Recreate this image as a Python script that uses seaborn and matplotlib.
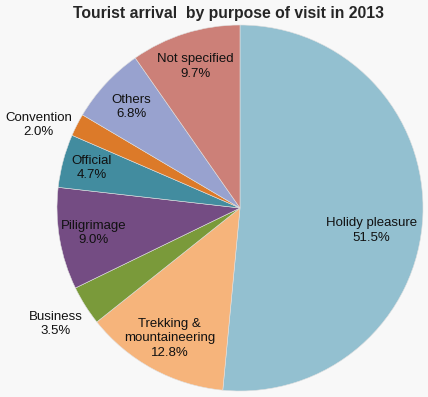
import numpy as np
import matplotlib
matplotlib.use("Agg")
import matplotlib.pyplot as plt
import seaborn as sns

# data, clockwise from 12 o'clock
purposes = ["Holidy pleasure", "Trekking &\nmountaineering", "Business", "Piligrimage",
            "Official", "Convention", "Others", "Not specified"]
shares   = [51.5, 12.8, 3.5, 9.0, 4.7, 2.0, 6.8, 9.7]
colors   = ["#93C0D0", "#F6B47B", "#7A9A3A", "#744C83",
            "#428C9F", "#DC7A29", "#98A2CF", "#CC8078"]

# label placement: (radius, angle nudge in degrees)
label_pos = {"Holidy pleasure": (0.73, -7), "Business": (1.19, 0),
             "Convention": (1.19, 4.5), "Official": (0.84, 0)}

sns.set_theme(style="white")
plt.rcParams["font.family"] = ["Liberation Sans", "DejaVu Sans"]

BG = "#F8F8F8"
fig = plt.figure(figsize=(4.28, 3.97), dpi=100, facecolor=BG)
ax = fig.add_axes([57 / 428, 6 / 397, 366 / 428, 366 / 397])
ax.set_facecolor(BG)

wedges, _ = ax.pie(shares, colors=colors, startangle=90, counterclock=False,
                   radius=1.0, wedgeprops=dict(linewidth=0.4, edgecolor="#E0E0E0"))

for w, name, val in zip(wedges, purposes, shares):
    r, nudge = label_pos.get(name, (0.81, 0))
    mid = np.deg2rad((w.theta1 + w.theta2) / 2 + nudge)
    ax.text(r * np.cos(mid), r * np.sin(mid), f"{name}\n{val:.1f}%",
            ha="center", va="center", fontsize=9.5, color="#111111", linespacing=1.25)

ax.set_xlim(-1, 1); ax.set_ylim(-1, 1)
ax.set_aspect("equal")
ax.axis("off")

fig.text(0.535, 0.965, "Tourist arrival  by purpose of visit in 2013",
         ha="center", va="center", fontsize=11.3, fontweight="bold")

fig.savefig("out.png", dpi=100, facecolor=BG)
